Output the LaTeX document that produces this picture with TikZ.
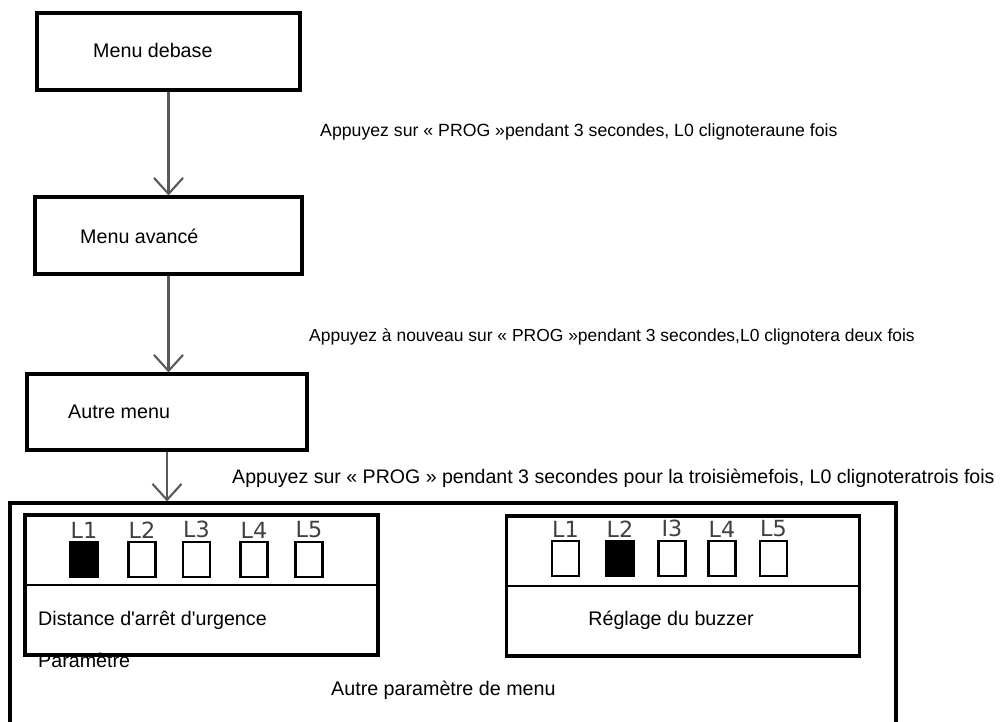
\documentclass[tikz,border=0pt]{standalone}
\usepackage{fontspec}
\newfontfamily\diagfont{Liberation Sans}
\newfontfamily\ledfont{DejaVu Sans}
\usetikzlibrary{arrows.meta, positioning, calc}

\newcommand{\px}{0.03cm}

\begin{document}
\begin{tikzpicture}[
    x=0.03cm, y=-0.03cm,
    menubox/.style={draw, line width=2.6pt, minimum height=77*\px, inner sep=0pt},
    panel/.style={draw, line width=2.6pt, minimum width=353*\px, minimum height=140*\px, inner sep=0pt},
    led/.style={draw, line width=2.3pt, minimum width=27*\px, minimum height=35*\px, inner sep=0pt},
    ledon/.style={led, fill=black},
    ledlbl/.style={font=\ledfont\fontsize{19}{20}\selectfont, text=black!75, inner sep=0pt},
    txt/.style={font=\diagfont\fontsize{16.8}{18}\selectfont, inner sep=0pt, anchor=base west},
    arr/.style={draw=black!65, line width=1.8pt,
                -{Straight Barb[length=0.48cm, width=0.87cm, line width=1.8pt]}},
]
\useasboundingbox (0,0) rectangle (1002,721);
\clip (0,0) rectangle (1002,721);

\node[menubox, minimum width=263*\px] (base) at (168.5,51.5) {};
\node[menubox, minimum width=267*\px] (adv) at (168.5,235.5) {};
\node[menubox, minimum width=280*\px, minimum height=76*\px] (autre) at (167,412) {};
\node[draw, line width=2.6pt, minimum width=886*\px, minimum height=260*\px, inner sep=0pt] (other) at (453,633) {};

\node[txt] (basetxt) at (93,57) {Menu debase};
\node[txt] (advtxt) at (80,243) {Menu avancé};
\node[txt] (autretxt) at (68,418) {Autre menu};

\node[txt, font=\diagfont\fontsize{15.1}{17}\selectfont] (press1) at (320,136)
    {Appuyez sur « PROG »pendant 3 secondes, L0 clignoteraune fois};
\node[txt, font=\diagfont\fontsize{14.9}{17}\selectfont] (press2) at (309,341)
    {Appuyez à nouveau sur « PROG »pendant 3 secondes,L0 clignotera deux fois};
\node[txt, font=\diagfont\fontsize{16.7}{18}\selectfont] (press3) at (232,483)
    {Appuyez sur « PROG » pendant 3 secondes pour la troisièmefois, L0 clignoteratrois fois};

\draw[arr] (base) -- (adv);
\draw[arr] (adv.south) -- (adv.south |- autre.north);
\draw[arr] (autre.south) -- (autre.south |- other.north);

% parameter panels
\node[panel] (lpanel) at (201.5,585) {};
\node[panel] (rpanel) at (683,586) {};
\draw[line width=2.3pt] (lpanel.west) -- (lpanel.east);
\draw[line width=2.3pt] (rpanel.west) -- (rpanel.east);

\foreach \x/\n/\s in {84/1/ledon, 142/2/led, 196.5/3/led, 254/4/led, 309/5/led} {
    \node[\s] (l\n) at (\x,559.5) {};
    \node[ledlbl, above=0.07cm of l\n] (l\n-lbl) {L\n};
}
\foreach \x/\n/\s/\t in {565.5/1/led/L1, 620/2/ledon/L2, 672/3/led/I3, 722/4/led/L4, 773.5/5/led/L5} {
    \node[\s] (r\n) at (\x,558.5) {};
    \node[ledlbl, above=0.07cm of r\n] (r\n-lbl) {\t};
}

\node[txt] (stoptxt) at (38,625) {Distance d'arrêt d'urgence};
\node[txt, anchor=base] (buzztxt) at (671,625) {Réglage du buzzer};
\node[txt] (paramtxt) at (38,667) {Paramètre};
\node[txt] (othertxt) at (331,695) {Autre paramètre de menu};
\end{tikzpicture}
\end{document}
